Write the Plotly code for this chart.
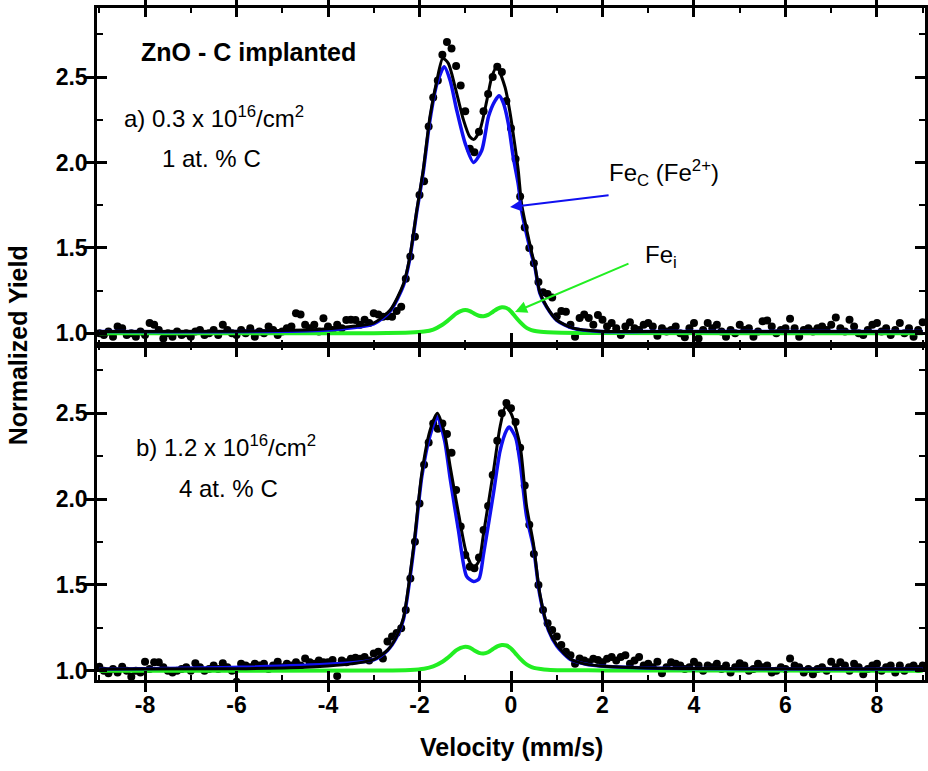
import plotly.graph_objects as go

# ---------------- data ----------------
velocity = [
    -9.0, -8.9, -8.8, -8.7, -8.6, -8.5, -8.4, -8.3, -8.2, -8.1,
    -8.0, -7.9, -7.8, -7.7, -7.6, -7.5, -7.4, -7.3, -7.2, -7.1,
    -7.0, -6.9, -6.8, -6.7, -6.6, -6.5, -6.4, -6.3, -6.2, -6.1,
    -6.0, -5.9, -5.8, -5.7, -5.6, -5.5, -5.4, -5.3, -5.2, -5.1,
    -5.0, -4.9, -4.8, -4.7, -4.6, -4.5, -4.4, -4.3, -4.2, -4.1,
    -4.0, -3.9, -3.8, -3.7, -3.6, -3.5, -3.4, -3.3, -3.2, -3.1,
    -3.0, -2.9, -2.8, -2.7, -2.6, -2.5, -2.4, -2.3, -2.2, -2.1,
    -2.0, -1.9, -1.8, -1.7, -1.6, -1.5, -1.4, -1.3, -1.2, -1.1,
    -1.0, -0.9, -0.8, -0.7, -0.6, -0.5, -0.4, -0.3, -0.2, -0.1,
    0.0, 0.1, 0.2, 0.3, 0.4, 0.5, 0.6, 0.7, 0.8, 0.9,
    1.0, 1.1, 1.2, 1.3, 1.4, 1.5, 1.6, 1.7, 1.8, 1.9,
    2.0, 2.1, 2.2, 2.3, 2.4, 2.5, 2.6, 2.7, 2.8, 2.9,
    3.0, 3.1, 3.2, 3.3, 3.4, 3.5, 3.6, 3.7, 3.8, 3.9,
    4.0, 4.1, 4.2, 4.3, 4.4, 4.5, 4.6, 4.7, 4.8, 4.9,
    5.0, 5.1, 5.2, 5.3, 5.4, 5.5, 5.6, 5.7, 5.8, 5.9,
    6.0, 6.1, 6.2, 6.3, 6.4, 6.5, 6.6, 6.7, 6.8, 6.9,
    7.0, 7.1, 7.2, 7.3, 7.4, 7.5, 7.6, 7.7, 7.8, 7.9,
    8.0, 8.1, 8.2, 8.3, 8.4, 8.5, 8.6, 8.7, 8.8, 8.9,
    9.0,
]

yield_a = [
    1.00, 0.99, 1.01, 0.98, 1.04, 1.03, 0.99, 1.00, 0.98, 1.01,
    0.99, 1.06, 1.05, 1.02, 0.97, 1.00, 0.98, 1.01, 0.99, 1.00,
    0.98, 1.01, 1.02, 0.99, 1.00, 1.02, 0.99, 1.05, 1.02, 1.00,
    0.99, 1.02, 1.00, 1.03, 0.98, 1.01, 1.00, 1.04, 1.02, 0.99,
    1.01, 1.03, 1.04, 1.117, 1.11, 1.05, 1.03, 1.05, 1.01, 1.088,
    1.04, 1.02, 1.05, 1.03, 1.078, 1.08, 1.078, 1.05, 1.08, 1.06,
    1.117, 1.11, 1.097, 1.10, 1.097, 1.13, 1.156, 1.32, 1.45, 1.565,
    1.81, 1.89, 2.21, 2.38, 2.48, 2.63, 2.705, 2.667, 2.565, 2.45,
    2.30, 2.08, 2.06, 2.18, 2.30, 2.40, 2.50, 2.56, 2.53, 2.36,
    2.20, 2.02, 1.80, 1.62, 1.50, 1.41, 1.30, 1.24, 1.23, 1.21,
    1.10, 1.13, 1.126, 1.05, 0.98, 1.09, 1.11, 1.09, 1.05, 1.107,
    1.08, 1.04, 1.06, 1.03, 0.99, 1.04, 1.065, 1.03, 1.02, 1.05,
    1.06, 1.04, 0.985, 1.03, 1.01, 1.02, 1.04, 1.00, 0.977, 1.03,
    1.06, 0.97, 1.02, 1.06, 1.03, 1.05, 1.01, 0.98, 1.02, 1.00,
    1.05, 1.02, 1.03, 0.98, 1.01, 1.07, 1.075, 1.04, 1.00, 1.02,
    1.03, 1.085, 1.03, 0.98, 1.02, 1.03, 1.01, 1.03, 1.04, 1.02,
    1.05, 1.093, 1.03, 1.01, 1.08, 1.04, 1.00, 0.99, 1.02, 1.05,
    1.06, 1.01, 1.03, 0.99, 1.02, 1.06, 1.00, 1.03, 0.98, 1.02,
    1.065,
]

yield_b = [
    1.023, 1.00, 0.985, 1.01, 0.99, 1.023, 1.00, 0.965, 1.00, 0.99,
    1.052, 1.01, 1.05, 1.05, 1.02, 1.00, 0.99, 1.00, 1.01, 1.02,
    1.00, 1.043, 1.02, 1.00, 1.01, 1.03, 1.01, 1.043, 1.02, 1.00,
    0.936, 1.04, 1.03, 1.02, 1.04, 1.03, 1.04, 1.01, 1.03, 1.052,
    1.02, 1.04, 1.03, 1.05, 1.03, 1.072, 1.05, 1.04, 1.06, 1.05,
    1.05, 1.062, 0.97, 1.06, 1.05, 1.07, 1.075, 1.07, 1.08, 1.06,
    1.10, 1.11, 1.072, 1.17, 1.20, 1.22, 1.247, 1.354, 1.538, 1.752,
    1.975, 2.20, 2.33, 2.44, 2.41, 2.44, 2.38, 2.27, 2.053, 1.84,
    1.674, 1.606, 1.597, 1.66, 1.82, 1.96, 2.14, 2.34, 2.50, 2.56,
    2.53, 2.45, 2.30, 2.08, 1.85, 1.68, 1.50, 1.354, 1.276, 1.237,
    1.20, 1.15, 1.11, 1.09, 1.04, 1.072, 1.06, 1.05, 1.07, 1.062,
    1.05, 1.07, 1.08, 1.06, 1.08, 1.09, 1.04, 1.06, 1.08, 1.03,
    1.04, 1.02, 1.052, 0.985, 1.02, 1.05, 1.04, 1.03, 1.01, 1.02,
    1.052, 1.03, 1.00, 1.03, 1.02, 1.04, 1.01, 1.03, 0.99, 1.02,
    1.043, 1.03, 1.00, 1.01, 1.04, 1.02, 1.03, 0.99, 1.00, 1.02,
    1.01, 1.072, 1.03, 1.02, 0.99, 1.01, 0.98, 1.01, 1.02, 1.00,
    1.052, 1.02, 1.05, 1.03, 1.00, 1.04, 1.02, 0.98, 1.01, 1.03,
    1.04, 1.00, 1.02, 1.03, 0.99, 1.03, 1.00, 1.02, 1.03, 1.01,
    1.03,
]

# fitted curves, panel a
fit_a_x = [-9.0, -6.0, -4.5, -4.0, -3.5, -3.01, -2.64, -2.35, -2.21, -2.06, -1.92, -1.77,
           -1.62, -1.49, -1.37, -1.22, -1.04, -0.90, -0.81, -0.68, -0.53, -0.42, -0.31,
           -0.13, -0.02, 0.09, 0.16, 0.23, 0.34, 0.45, 0.52, 0.63, 0.78, 1.0, 1.36, 1.95, 3.0, 9.0]
fit_a_y = [1.01, 1.012, 1.02, 1.027, 1.04, 1.06, 1.136, 1.29, 1.45, 1.72, 1.955, 2.27,
           2.48, 2.61, 2.58, 2.44, 2.25, 2.15, 2.135, 2.19, 2.36, 2.50, 2.56,
           2.44, 2.29, 2.09, 1.95, 1.76, 1.61, 1.475, 1.40, 1.24, 1.156, 1.078, 1.03, 1.012, 1.01, 1.01]

fec_a_x = [-9.0, -4.0, -3.0, -2.64, -2.35, -2.21, -2.06, -1.92, -1.77, -1.62, -1.46, -1.33,
           -1.19, -1.0, -0.82, -0.64, -0.49, -0.35, -0.26, -0.17, -0.06, 0.05, 0.16, 0.23,
           0.34, 0.45, 0.52, 0.63, 0.78, 1.0, 1.36, 1.95, 3.0, 9.0]
fec_a_y = [1.01, 1.02, 1.055, 1.13, 1.28, 1.44, 1.71, 1.94, 2.25, 2.46, 2.56, 2.48,
           2.31, 2.11, 2.00, 2.07, 2.27, 2.36, 2.39, 2.35, 2.23, 2.03, 1.87, 1.72,
           1.58, 1.46, 1.39, 1.235, 1.153, 1.076, 1.029, 1.011, 1.01, 1.01]

fei_a_x = [-9.0, -3.0, -2.2, -1.9, -1.7, -1.5, -1.4, -1.3, -1.2, -1.1, -1.0, -0.9, -0.8,
           -0.7, -0.6, -0.5, -0.4, -0.3, -0.2, -0.1, 0.0, 0.1, 0.2, 0.3, 0.4, 0.5, 0.65,
           0.8, 1.1, 1.5, 9.0]
fei_a_y = [1.0, 1.001, 1.004, 1.01, 1.022, 1.05, 1.07, 1.092, 1.115, 1.13, 1.136, 1.13,
           1.115, 1.103, 1.10, 1.108, 1.125, 1.143, 1.152, 1.148, 1.128, 1.095, 1.065, 1.04,
           1.024, 1.015, 1.009, 1.006, 1.003, 1.002, 1.0]

# fitted curves, panel b
fit_b_x = [-9.0, -6.0, -4.5, -4.0, -3.5, -3.0, -2.7, -2.5, -2.35, -2.13, -1.95, -1.77,
           -1.61, -1.45, -1.33, -1.15, -0.97, -0.82, -0.7, -0.6, -0.38, -0.24, -0.12,
           0.0, 0.2, 0.34, 0.49, 0.63, 0.82, 1.0, 1.29, 1.6, 1.95, 3.0, 5.0, 9.0]
fit_b_y = [1.01, 1.012, 1.02, 1.028, 1.04, 1.065, 1.12, 1.2, 1.31, 1.72, 2.15, 2.40,
           2.50, 2.38, 2.19, 1.92, 1.68, 1.60, 1.64, 1.80, 2.17, 2.42, 2.54,
           2.50, 2.31, 1.96, 1.74, 1.45, 1.24, 1.15, 1.07, 1.04, 1.028, 1.016, 1.012, 1.01]

fec_b_x = [-9.0, -3.0, -2.7, -2.5, -2.35, -2.13, -1.95, -1.77, -1.61, -1.45, -1.33, -1.15,
           -0.97, -0.82, -0.7, -0.6, -0.38, -0.24, -0.1, -0.04, 0.1, 0.2, 0.34, 0.49,
           0.63, 0.82, 1.0, 1.29, 1.6, 1.95, 3.0, 9.0]
fec_b_y = [1.01, 1.064, 1.118, 1.195, 1.30, 1.70, 2.13, 2.37, 2.48, 2.34, 2.12, 1.82,
           1.55, 1.52, 1.535, 1.68, 2.04, 2.28, 2.40, 2.42, 2.36, 2.21, 1.90, 1.72,
           1.44, 1.235, 1.145, 1.067, 1.04, 1.027, 1.016, 1.01]

fei_b_x = [-9.0, -3.0, -2.2, -1.9, -1.7, -1.5, -1.4, -1.3, -1.2, -1.1, -1.0, -0.9, -0.8,
           -0.7, -0.6, -0.5, -0.4, -0.3, -0.2, -0.1, 0.0, 0.1, 0.2, 0.3, 0.4, 0.5, 0.65,
           0.8, 1.1, 2.0, 9.0]
fei_b_y = [1.0, 1.001, 1.005, 1.012, 1.025, 1.052, 1.072, 1.095, 1.118, 1.133, 1.14, 1.135,
           1.118, 1.104, 1.10, 1.108, 1.125, 1.142, 1.15, 1.147, 1.13, 1.10, 1.07, 1.045,
           1.028, 1.017, 1.01, 1.006, 1.003, 1.002, 1.0]

x_ticks = [-8, -6, -4, -2, 0, 2, 4, 6, 8]
x_tick_text = ["-8", "-6", "-4", "-2", "0", "2", "4", "6", "8"]
x_minor = [-9, -7, -5, -3, -1, 1, 3, 5, 7, 9]
y_ticks = [1.0, 1.5, 2.0, 2.5]
y_tick_text = ["1.0", "1.5", "2.0", "2.5"]
y_minor = [1.25, 1.75, 2.25, 2.75]

# ---------------- figure ----------------
BLACK = "#000000"
BLUE = "#1010F0"
GREEN = "#22EE22"
FONT = "Arial"
XR = [-9.05, 9.05]
YR_A = [0.9315, 2.904]
YR_B = [0.946, 2.898]

fig = go.Figure()

for xs, ys, fx, fy, bx, by, gx, gy, xa, ya in [
    (velocity, yield_a, fit_a_x, fit_a_y, fec_a_x, fec_a_y, fei_a_x, fei_a_y, "x", "y"),
    (velocity, yield_b, fit_b_x, fit_b_y, fec_b_x, fec_b_y, fei_b_x, fei_b_y, "x2", "y2"),
]:
    fig.add_trace(go.Scatter(x=xs, y=ys, mode="markers", xaxis=xa, yaxis=ya,
                             marker=dict(color=BLACK, size=8), showlegend=False))
    fig.add_trace(go.Scatter(x=gx, y=gy, mode="lines", xaxis=xa, yaxis=ya,
                             line=dict(color=GREEN, width=4, shape="spline", smoothing=0.7),
                             showlegend=False))
    fig.add_trace(go.Scatter(x=bx, y=by, mode="lines", xaxis=xa, yaxis=ya,
                             line=dict(color=BLUE, width=3.5, shape="spline", smoothing=0.7),
                             showlegend=False))
    fig.add_trace(go.Scatter(x=fx, y=fy, mode="lines", xaxis=xa, yaxis=ya,
                             line=dict(color=BLACK, width=3, shape="spline", smoothing=0.7),
                             showlegend=False))

# invisible helper traces so that the minor-tick overlay axes are drawn
for xa, ya in [("x3", "y"), ("x4", "y2"), ("x", "y3"), ("x2", "y4")]:
    fig.add_trace(go.Scatter(x=[None], y=[None], xaxis=xa, yaxis=ya, mode="markers",
                             showlegend=False, hoverinfo="skip"))

tickfont = dict(family=FONT, size=23, color=BLACK, weight="bold")
split = 0.4985

xcommon = dict(range=XR, tickmode="array", tickvals=x_ticks, ticktext=x_tick_text,
               ticks="inside", ticklen=9, tickwidth=2.5,
               tickcolor=BLACK, showline=True, linewidth=2.5, linecolor=BLACK, mirror="allticks",
               showgrid=False, zeroline=False, automargin=False, tickfont=tickfont)
ycommon = dict(tickmode="array", tickvals=y_ticks, ticktext=y_tick_text,
               ticks="inside", ticklen=10, tickwidth=2.5, tickcolor=BLACK,
               showline=True, linewidth=2.5, linecolor=BLACK, mirror="allticks",
               showgrid=False, zeroline=False, automargin=False,
               tickfont=tickfont, ticklabelstandoff=2)
xminor = dict(range=XR, tickmode="array", tickvals=x_minor, ticks="inside", ticklen=5, tickwidth=2,
              tickcolor=BLACK, showticklabels=False, showline=False, mirror="ticks",
              showgrid=False, zeroline=False, automargin=False, side="bottom")
yminor = dict(tickmode="array", tickvals=y_minor, ticks="inside", ticklen=6, tickwidth=2,
              tickcolor=BLACK, showticklabels=False, showline=False, mirror="ticks",
              showgrid=False, zeroline=False, automargin=False, side="left")

fig.update_layout(
    width=928, height=771,
    margin=dict(l=97, r=3, t=8, b=91, autoexpand=False),
    paper_bgcolor="white", plot_bgcolor="white",
    xaxis=dict(xcommon, domain=[0, 1], anchor="y", showticklabels=False),
    xaxis2=dict(xcommon, domain=[0, 1], anchor="y2", ticklabelstandoff=3),
    xaxis3=dict(xminor, overlaying="x", anchor="y"),
    xaxis4=dict(xminor, overlaying="x2", anchor="y2"),
    yaxis=dict(ycommon, domain=[split, 1], anchor="x", range=YR_A),
    yaxis2=dict(ycommon, domain=[0, split], anchor="x2", range=YR_B),
    yaxis3=dict(yminor, overlaying="y", anchor="x", range=YR_A),
    yaxis4=dict(yminor, overlaying="y2", anchor="x2", range=YR_B),
)

ann = []
ann.append(dict(text="ZnO - C implanted", x=-5.73, y=2.646, xref="x", yref="y", showarrow=False,
                xanchor="center", yanchor="middle", font=dict(family=FONT, size=25, color=BLACK, weight="bold")))
lab = dict(family=FONT, size=24, color=BLACK)
ann.append(dict(text="a) 0.3 x 10<sup>16</sup>/cm<sup>2</sup>", x=-8.5, y=2.265, xref="x", yref="y",
                showarrow=False, xanchor="left", yanchor="middle", font=lab))
ann.append(dict(text="1 at. % C", x=-7.67, y=2.024, xref="x", yref="y",
                showarrow=False, xanchor="left", yanchor="middle", font=lab))
ann.append(dict(text="b) 1.2 x 10<sup>16</sup>/cm<sup>2</sup>", x=-8.24, y=2.31, xref="x2", yref="y2",
                showarrow=False, xanchor="left", yanchor="middle", font=lab))
ann.append(dict(text="4 at. % C", x=-7.31, y=2.063, xref="x2", yref="y2",
                showarrow=False, xanchor="left", yanchor="middle", font=lab))
ann.append(dict(text="Fe<sub>C</sub> (Fe<sup>2+</sup>)", x=2.09, y=1.936, xref="x", yref="y",
                showarrow=False, xanchor="left", yanchor="middle", font=lab))
ann.append(dict(text="Fe<sub>i</sub>", x=2.89, y=1.448, xref="x", yref="y",
                showarrow=False, xanchor="left", yanchor="middle", font=lab))
# arrows
ann.append(dict(text="", x=-0.02, y=1.739, xref="x", yref="y", showarrow=True, axref="pixel", ayref="pixel",
                ax=100, ay=-12, arrowhead=2, arrowsize=1.2, arrowwidth=2, arrowcolor=BLUE, standoff=0))
ann.append(dict(text="", x=0.087, y=1.125, xref="x", yref="y", showarrow=True, axref="pixel", ayref="pixel",
                ax=115, ay=-49, arrowhead=2, arrowsize=1.2, arrowwidth=2, arrowcolor=GREEN, standoff=0))
# axis titles
ann.append(dict(text="Normalized Yield", x=-0.095, y=split, xref="paper", yref="paper", showarrow=False,
                textangle=-90, xanchor="center", yanchor="middle",
                font=dict(family=FONT, size=25, color=BLACK, weight="bold")))
ann.append(dict(text="Velocity (mm/s)", x=0.5, y=-0.1, xref="paper", yref="paper", showarrow=False,
                xanchor="center", yanchor="middle",
                font=dict(family=FONT, size=25, color=BLACK, weight="bold")))
fig.update_layout(annotations=ann)

fig.write_html("out.html", config={"displayModeBar": False},
               post_script="document.documentElement.style.margin='0';document.body.style.margin='0';"
                           "document.body.style.overflow='hidden';")
